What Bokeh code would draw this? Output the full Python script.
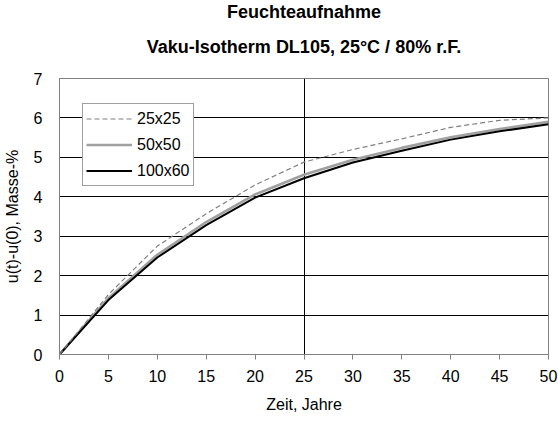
from bokeh.plotting import figure
from bokeh.models import Range1d, FixedTicker, Title, Legend, LegendItem
from bokeh.embed import file_html
from bokeh.resources import INLINE

# ---- data ----
years = [0, 5, 10, 15, 20, 25, 30, 35, 40, 45, 50]
s_25x25 = [0, 1.52, 2.75, 3.57, 4.30, 4.88, 5.20, 5.47, 5.76, 5.94, 6.00]
s_50x50 = [0, 1.43, 2.53, 3.36, 4.06, 4.56, 4.94, 5.24, 5.51, 5.72, 5.90]
s_100x60 = [0, 1.38, 2.46, 3.28, 3.98, 4.47, 4.87, 5.17, 5.45, 5.66, 5.84]
series_names = ["25x25", "50x50", "100x60"]
x_ticks = [0, 5, 10, 15, 20, 25, 30, 35, 40, 45, 50]
y_ticks = [0, 1, 2, 3, 4, 5, 6, 7]
x_grid_ticks = [25]
title_line1 = "Feuchteaufnahme"
title_line2 = "Vaku-Isotherm DL105, 25°C / 80% r.F."
x_label = "Zeit, Jahre"
y_label = "u(t)-u(0), Masse-%"

FONT = "Liberation Sans"

p = figure(width=558, height=422, output_backend="svg", toolbar_location=None,
           x_range=Range1d(x_ticks[0], x_ticks[-1]), y_range=Range1d(y_ticks[0], y_ticks[-1]),
           min_border_left=58, min_border_right=10, min_border_top=78, min_border_bottom=68,
           background_fill_color="white", border_fill_color="white")
p.outline_line_color = "#808080"
p.outline_line_width = 1

# titles (second line added first so it sits nearest the frame)
t2 = Title(text=title_line2, align="center", text_font=FONT, text_font_size="18px",
           text_font_style="bold", text_color="black", standoff=43)
t1 = Title(text=title_line1, align="center", text_font=FONT, text_font_size="18px",
           text_font_style="bold", text_color="black", standoff=-17)
p.add_layout(t2, "above")
p.add_layout(t1, "above")

# axes
p.xaxis.ticker = FixedTicker(ticks=x_ticks)
p.yaxis.ticker = FixedTicker(ticks=y_ticks)
p.xaxis.minor_tick_line_color = None
p.yaxis.minor_tick_line_color = None
p.xaxis.axis_line_color = "#808080"
p.yaxis.axis_line_color = "#808080"
p.xaxis.major_tick_line_color = "#808080"
p.xaxis.major_tick_out = 5
p.xaxis.major_tick_in = 0
p.yaxis.major_tick_out = 0
p.yaxis.major_tick_in = 0
p.xaxis.major_label_standoff = 10
p.yaxis.major_label_standoff = 17
for ax in (p.xaxis, p.yaxis):
    ax.major_label_text_font = FONT
    ax.major_label_text_font_size = "16px"
    ax.major_label_text_color = "black"
    ax.axis_label_text_font = FONT
    ax.axis_label_text_font_size = "16px"
    ax.axis_label_text_font_style = "normal"
    ax.axis_label_text_color = "black"
p.xaxis.axis_label = x_label
p.yaxis.axis_label = y_label
p.xaxis.axis_label_standoff = 11
p.yaxis.axis_label_standoff = 10

# grids
p.ygrid.ticker = FixedTicker(ticks=y_ticks[1:-1])
p.ygrid.grid_line_color = "black"
p.ygrid.grid_line_width = 1
p.xgrid.ticker = FixedTicker(ticks=x_grid_ticks)
p.xgrid.grid_line_color = "black"
p.xgrid.grid_line_width = 1

# series
r50 = p.line(years, s_50x50, line_color="#a0a0a0", line_width=2.6)
r100 = p.line(years, s_100x60, line_color="black", line_width=2)
r25 = p.line(years, s_25x25, line_color="#808080", line_width=1.2, line_dash="5 3")

legend = Legend(items=[LegendItem(label=series_names[0], renderers=[r25]),
                       LegendItem(label=series_names[1], renderers=[r50]),
                       LegendItem(label=series_names[2], renderers=[r100])],
                location=(23, 168), margin=0, padding=3, spacing=3,
                glyph_width=46, glyph_height=23, label_height=23, label_standoff=5,
                label_text_font=FONT, label_text_font_size="16px", label_text_color="black",
                border_line_color="#404040", border_line_width=1,
                background_fill_color="white", background_fill_alpha=1)
p.add_layout(legend)

open("out.html", "w").write(file_html(p, INLINE))
